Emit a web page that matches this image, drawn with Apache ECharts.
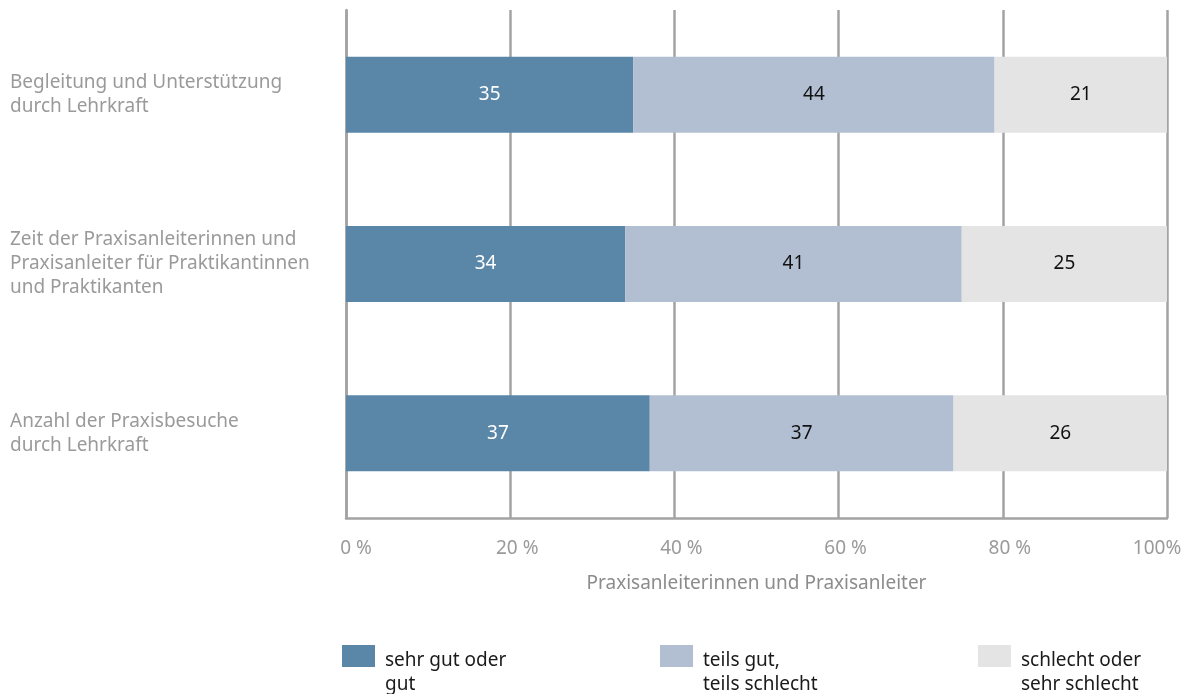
<!DOCTYPE html>
<html>
<head>
    <meta charset="utf-8">
    <title>Praxisanleiter</title>
    <script src="https://cdn.jsdelivr.net/npm/echarts@6/dist/echarts.min.js"></script>
    <style>
        html, body { margin: 0; padding: 0; background: #fff; }
        #main { width: 1185px; height: 694px; }
    </style>
</head>
<body>
<div id="main"></div>

<script type="text/javascript">
    // Kategorien (von oben nach unten)
    var categories = [
        'Begleitung und Unterstützung\ndurch Lehrkraft',
        'Zeit der Praxisanleiterinnen und\nPraxisanleiter für Praktikantinnen\nund Praktikanten',
        'Anzahl der Praxisbesuche\ndurch Lehrkraft'
    ];
    var seriesNames = ['sehr gut oder\ngut', 'teils gut,\nteils schlecht', 'schlecht oder\nsehr schlecht'];
    var sehrGut = [35, 34, 37];
    var teilsGut = [44, 41, 37];
    var schlecht = [21, 25, 26];
    var tickLabels = ['0 %', '20 %', '40 %', '60 %', '80 %', '100%'];

    var colors = ['#5a87a8', '#b2bfd2', '#e3e4e3'];
    var grey = '#a3a3a3';
    var font = 'Noto Sans';

    function bar(name, data, color, labelColor) {
        return {
            name: name,
            type: 'bar',
            stack: 'all',
            barWidth: 76,
            data: data,
            itemStyle: { color: color },
            label: {
                show: true,
                position: 'inside',
                color: labelColor,
                fontFamily: font,
                fontSize: 19
            }
        };
    }

    // eigene Legende je Eintrag, damit das Kästchen an der ersten Zeile sitzt
    function legendAt(name, left) {
        return {
            data: [name],
            left: left,
            top: 615,
            itemWidth: 33,
            itemHeight: 22,
            icon: 'rect',
            selectedMode: false,
            padding: 0,
            formatter: function (n) { return '{s| }\n' + n; },
            textStyle: {
                color: '#1a1a1a',
                fontFamily: font,
                fontSize: 19,
                lineHeight: 24,
                padding: [0, 0, 0, 5],
                rich: {
                    s: { fontSize: 1, lineHeight: 34 }
                }
            }
        };
    }

    var tickStyle = { color: '#9a9a9a', fontFamily: font, fontSize: 19 };

    var myChart = echarts.init(document.getElementById('main'));
    myChart.setOption({
        animation: false,
        color: colors,
        grid: {
            left: 346,
            right: 18,
            top: 10,
            bottom: 176,
            outerBoundsMode: 'none',
            containLabel: false
        },
        legend: [
            legendAt(seriesNames[0], 342),
            legendAt(seriesNames[1], 660),
            legendAt(seriesNames[2], 978)
        ],
        xAxis: {
            type: 'value',
            min: 0,
            max: 100,
            interval: 20,
            name: 'Praxisanleiterinnen und Praxisanleiter',
            nameLocation: 'middle',
            nameGap: 56,
            nameTextStyle: { color: '#8c8c8c', fontFamily: font, fontSize: 19 },
            axisLine: { show: true, lineStyle: { color: grey, width: 2.5 } },
            axisTick: { show: false },
            axisLabel: {
                color: '#9a9a9a',
                fontFamily: font,
                fontSize: 19,
                margin: 21,
                formatter: function (v) {
                    var i = v / 20;
                    var key = i === 0 ? 'a' : (i === 5 ? 'c' : 'b');
                    return '{' + key + '|' + tickLabels[i] + '}';
                },
                rich: {
                    a: Object.assign({ padding: [0, 0, 0, 20] }, tickStyle),
                    b: Object.assign({ padding: [0, 0, 0, 14] }, tickStyle),
                    c: Object.assign({ padding: [0, 20, 0, 0] }, tickStyle)
                }
            },
            splitLine: { show: true, lineStyle: { color: grey, width: 2.5 } }
        },
        yAxis: {
            type: 'category',
            inverse: true,
            data: categories,
            axisLine: { show: true, lineStyle: { color: grey, width: 2.5 } },
            axisTick: { show: false },
            axisLabel: {
                align: 'left',
                margin: 336,
                color: '#9a9a9a',
                fontFamily: font,
                fontSize: 19,
                lineHeight: 24
            }
        },
        series: [
            bar(seriesNames[0], sehrGut, colors[0], '#ffffff'),
            bar(seriesNames[1], teilsGut, colors[1], '#111111'),
            bar(seriesNames[2], schlecht, colors[2], '#111111')
        ]
    });
</script>
</body>
</html>
